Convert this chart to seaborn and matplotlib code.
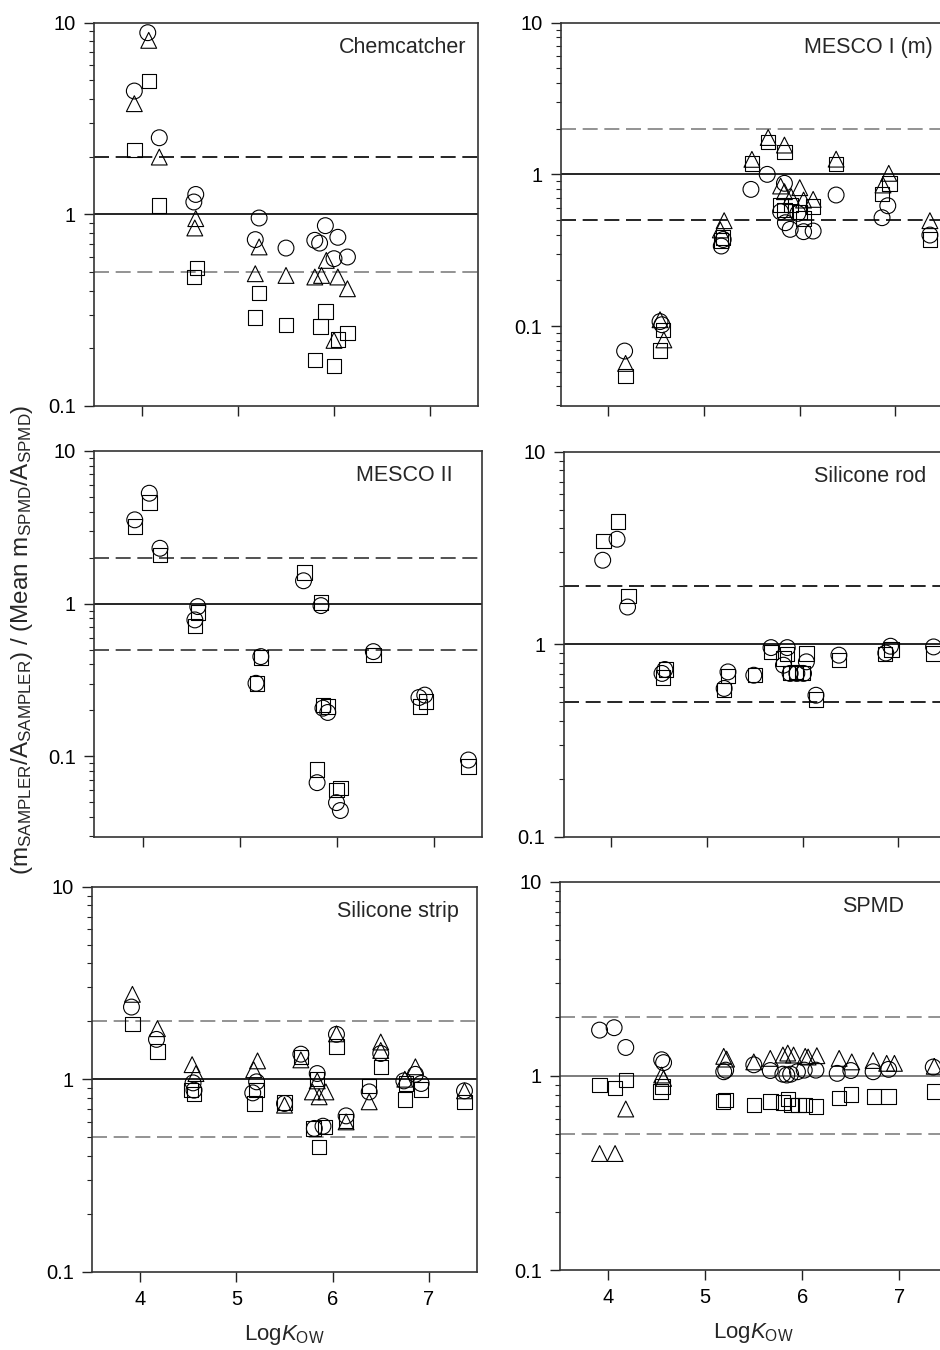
import matplotlib
matplotlib.use("Agg")
import matplotlib.pyplot as plt
from matplotlib.ticker import LogLocator, NullFormatter, FixedLocator, FixedFormatter
import seaborn as sns

sns.set_style("ticks")
plt.rcParams['font.family'] = ['Liberation Sans', 'DejaVu Sans']
plt.rcParams['mathtext.fontset'] = 'custom'
plt.rcParams['mathtext.rm'] = 'Liberation Sans'
plt.rcParams['mathtext.it'] = 'Liberation Sans:italic'
plt.rcParams['mathtext.bf'] = 'Liberation Sans:bold'

# ---- Chemcatcher ----
chem_circ_x = [4.06, 3.92, 4.18, 4.56, 4.54, 5.22, 5.18, 5.50, 5.91, 5.80, 5.85, 6.04, 6.00, 6.14]
chem_circ_y = [8.87, 4.40, 2.51, 1.27, 1.16, 0.957, 0.738, 0.667, 0.873, 0.732, 0.708, 0.759, 0.587, 0.599]
chem_tri_x = [4.07, 3.92, 4.18, 4.56, 4.55, 5.22, 5.18, 5.50, 5.92, 5.80, 5.87, 6.04, 6.14, 6.00]
chem_tri_y = [8.09, 3.78, 1.99, 0.95, 0.849, 0.676, 0.49, 0.48, 0.575, 0.471, 0.48, 0.471, 0.409, 0.22]
chem_sq_x = [4.07, 3.92, 4.18, 4.57, 4.54, 5.22, 5.18, 5.50, 5.91, 5.86, 6.14, 6.04, 5.80, 6.00]
chem_sq_y = [4.96, 2.16, 1.11, 0.525, 0.471, 0.389, 0.289, 0.264, 0.312, 0.26, 0.24, 0.222, 0.174, 0.162]

# ---- MESCO I (m) ----
m1_circ_x = [4.17, 4.54, 4.56, 5.18, 5.20, 5.49, 5.66, 5.84, 5.80, 5.85, 5.90, 6.04, 6.14, 5.98, 6.38, 6.86, 6.92, 7.36]
m1_circ_y = [0.0684, 0.107, 0.102, 0.337, 0.372, 0.796, 1.0, 0.873, 0.567, 0.48, 0.434, 0.419, 0.423, 0.553, 0.731, 0.518, 0.621, 0.398]
m1_tri_x = [4.18, 4.54, 4.58, 5.21, 5.17, 5.50, 5.67, 5.84, 6.38, 5.80, 5.84, 5.91, 6.00, 6.04, 6.14, 6.93, 6.87, 7.36]
m1_tri_y = [0.0567, 0.11, 0.081, 0.495, 0.43, 1.256, 1.75, 1.56, 1.26, 0.838, 0.769, 0.713, 0.817, 0.677, 0.684, 1.016, 0.851, 0.495]
m1_sq_x = [4.18, 4.54, 4.57, 5.20, 5.18, 5.50, 5.67, 5.84, 6.38, 5.80, 5.84, 5.91, 6.00, 6.04, 6.14, 6.94, 6.86, 7.36]
m1_sq_y = [0.0468, 0.0688, 0.094, 0.384, 0.366, 1.18, 1.64, 1.41, 1.17, 0.628, 0.582, 0.628, 0.567, 0.513, 0.612, 0.873, 0.742, 0.373]

# ---- MESCO II ----
m2_circ_x = [3.92, 4.07, 4.18, 4.57, 4.54, 5.22, 5.17, 5.66, 5.84, 5.86, 5.91, 5.80, 6.00, 6.04, 6.38, 6.85, 6.91, 7.36]
m2_circ_y = [3.53, 5.27, 2.30, 0.956, 0.782, 0.45, 0.301, 1.41, 0.97, 0.207, 0.194, 0.0674, 0.0499, 0.0443, 0.485, 0.243, 0.252, 0.0948]
m2_sq_x = [3.92, 4.07, 4.18, 4.57, 4.54, 5.22, 5.18, 5.67, 5.84, 5.86, 5.91, 5.80, 6.00, 6.04, 6.38, 6.86, 6.92, 7.36]
m2_sq_y = [3.19, 4.58, 2.08, 0.873, 0.714, 0.443, 0.301, 1.60, 1.015, 0.217, 0.212, 0.0824, 0.0604, 0.062, 0.462, 0.212, 0.229, 0.0858]

# ---- Silicone rod ----
rod_circ_x = [3.91, 4.06, 4.17, 4.56, 4.53, 5.22, 5.18, 5.49, 5.67, 5.84, 5.80, 5.87, 5.94, 6.01, 6.04, 6.14, 6.38, 6.92, 6.87, 7.37]
rod_circ_y = [2.73, 3.51, 1.56, 0.739, 0.705, 0.718, 0.589, 0.69, 0.96, 0.96, 0.778, 0.705, 0.705, 0.705, 0.81, 0.543, 0.877, 0.976, 0.90, 0.968]
rod_sq_x = [3.92, 4.07, 4.18, 4.57, 4.54, 5.22, 5.18, 5.50, 5.67, 5.84, 5.80, 5.87, 5.93, 6.00, 6.04, 6.14, 6.38, 6.93, 6.86, 7.37]
rod_sq_y = [3.44, 4.35, 1.78, 0.739, 0.671, 0.682, 0.577, 0.69, 0.912, 0.887, 0.843, 0.71, 0.718, 0.71, 0.894, 0.516, 0.826, 0.938, 0.887, 0.895]

# ---- Silicone strip ----
strip_circ_x = [3.91, 4.17, 4.55, 4.56, 5.21, 5.17, 5.50, 5.67, 5.84, 5.81, 5.90, 6.04, 6.14, 6.38, 6.50, 6.74, 6.92, 6.86, 7.37]
strip_circ_y = [2.37, 1.61, 0.957, 0.877, 0.969, 0.849, 0.748, 1.349, 1.07, 0.555, 0.57, 1.71, 0.645, 0.859, 1.36, 0.98, 0.95, 1.06, 0.87]
strip_tri_x = [3.92, 4.18, 4.54, 4.58, 5.22, 5.18, 5.50, 5.67, 5.84, 5.79, 5.93, 5.86, 6.04, 6.14, 6.38, 6.50, 6.50, 6.75, 6.86, 7.37]
strip_tri_y = [2.76, 1.83, 1.19, 1.07, 1.245, 1.12, 0.733, 1.26, 0.98, 0.859, 0.859, 0.81, 1.72, 0.60, 0.763, 1.56, 1.41, 1.0, 1.16, 0.87]
strip_sq_x = [3.92, 4.18, 4.56, 4.53, 5.19, 5.21, 5.50, 5.67, 5.84, 5.80, 5.92, 5.86, 6.04, 6.14, 6.38, 6.50, 6.75, 6.92, 6.76, 7.37]
strip_sq_y = [1.93, 1.39, 0.836, 0.877, 0.748, 0.877, 0.757, 1.30, 1.0, 0.555, 0.566, 0.445, 1.48, 0.608, 0.92, 1.16, 0.784, 0.884, 0.95, 0.763]

# ---- SPMD ----
spmd_circ_x = [3.91, 4.06, 4.18, 4.55, 4.57, 5.19, 5.21, 5.50, 5.67, 5.80, 5.84, 5.88, 5.95, 6.02, 6.14, 6.36, 6.50, 6.73, 6.89, 7.35]
spmd_circ_y = [1.72, 1.77, 1.40, 1.21, 1.17, 1.05, 1.07, 1.14, 1.065, 1.02, 1.01, 1.02, 1.05, 1.07, 1.07, 1.03, 1.065, 1.05, 1.08, 1.11]
spmd_tri_x = [3.91, 4.07, 4.18, 4.55, 4.57, 5.19, 5.22, 5.50, 5.67, 5.80, 5.85, 5.91, 6.03, 6.06, 6.15, 6.38, 6.51, 6.73, 6.87, 6.95, 7.36]
spmd_tri_y = [0.398, 0.398, 0.675, 1.01, 0.97, 1.26, 1.22, 1.18, 1.23, 1.28, 1.31, 1.28, 1.26, 1.25, 1.27, 1.23, 1.18, 1.2, 1.16, 1.16, 1.12]
spmd_sq_x = [3.91, 4.07, 4.18, 4.54, 4.56, 5.18, 5.21, 5.50, 5.67, 5.80, 5.85, 5.89, 5.96, 6.03, 6.14, 6.38, 6.50, 6.74, 6.89, 7.36]
spmd_sq_y = [0.90, 0.865, 0.954, 0.83, 0.88, 0.738, 0.753, 0.71, 0.738, 0.73, 0.76, 0.71, 0.71, 0.71, 0.696, 0.768, 0.80, 0.784, 0.784, 0.83]

x_ticks = [4, 5, 6, 7]
y_ticks = [0.1, 1, 10]
y_tick_labels = ["0.1", "1", "10"]

W, H = 940, 1350
fig = plt.figure(figsize=(W / 100, H / 100), dpi=100)


def px_axes(left, top, right, bottom):
    return fig.add_axes([left / W, 1 - bottom / H, (right - left) / W, (bottom - top) / H])


GRAY = "#808080"
BLACK = "#000000"

panels = [
    # name, box(px), ylim, series, upper dash colour, lower dash colour, unity colour, label x
    ("Chemcatcher", (94, 22.7, 478, 406), (0.1, 10),
     [(chem_circ_x, chem_circ_y, "o"), (chem_tri_x, chem_tri_y, "^"), (chem_sq_x, chem_sq_y, "s")],
     BLACK, GRAY, BLACK, 0.969),
    ("MESCO I (m)", (560.5, 22.7, 943.3, 406), (0.0297, 10),
     [(m1_circ_x, m1_circ_y, "o"), (m1_tri_x, m1_tri_y, "^"), (m1_sq_x, m1_sq_y, "s")],
     GRAY, BLACK, BLACK, 0.972),
    ("MESCO II", (94, 450.7, 482, 837.3), (0.0296, 10),
     [(m2_sq_x, m2_sq_y, "s"), (m2_circ_x, m2_circ_y, "o")],
     "#333333", "#333333", BLACK, 0.924),
    ("Silicone rod", (563.5, 451.7, 946, 836.7), (0.1, 10),
     [(rod_sq_x, rod_sq_y, "s"), (rod_circ_x, rod_circ_y, "o")],
     BLACK, BLACK, BLACK, 0.948),
    ("Silicone strip", (92, 886.7, 477, 1271.7), (0.1, 10),
     [(strip_sq_x, strip_sq_y, "s"), (strip_circ_x, strip_circ_y, "o"), (strip_tri_x, strip_tri_y, "^")],
     GRAY, GRAY, BLACK, 0.954),
    ("SPMD", (559.8, 881.7, 947.8, 1270), (0.1, 10),
     [(spmd_sq_x, spmd_sq_y, "s"), (spmd_circ_x, spmd_circ_y, "o"), (spmd_tri_x, spmd_tri_y, "^")],
     GRAY, GRAY, "#666666", 0.886),
]

sizes = {"o": 130, "^": 130, "s": 108}

axes = []
for i, (name, box, ylim, series, c_up, c_lo, c_one, lx) in enumerate(panels):
    ax = px_axes(*box)
    axes.append(ax)
    ax.set_yscale("log")
    ax.axhline(1, color=c_one, lw=1.2, zorder=1)
    ax.axhline(2, color=c_up, lw=1.2, ls=(0, (9, 4)), zorder=1)
    ax.axhline(0.5, color=c_lo, lw=1.2, ls=(0, (9, 4)), zorder=1)
    for xs, ys, mk in series:
        sns.scatterplot(x=xs, y=ys, ax=ax, marker=mk, s=sizes[mk], facecolor="none",
                        edgecolor="black", linewidth=0.8, legend=False, zorder=3)
    ax.set_xlim(3.5, 7.5)
    ax.set_ylim(*ylim)
    ax.yaxis.set_major_locator(FixedLocator(y_ticks))
    ax.yaxis.set_major_formatter(FixedFormatter(y_tick_labels))
    ax.yaxis.set_minor_locator(LogLocator(base=10, subs=range(2, 10), numticks=20))
    ax.yaxis.set_minor_formatter(NullFormatter())
    ax.set_xticks(x_ticks)
    if i < 4:
        ax.set_xticklabels([])
    ax.tick_params(axis="both", which="major", direction="out", length=7, width=1,
                   labelsize=14.5, pad=6, colors="#222222", labelcolor="black")
    ax.tick_params(axis="y", which="minor", direction="out", length=3.5, width=0.8, colors="#222222")
    for sp in ax.spines.values():
        sp.set_color("#333333")
        sp.set_linewidth(1.2)
        sp.set_visible(True)
    ax.text(lx, 0.935, name, transform=ax.transAxes, ha="right", va="center", fontsize=15.5)
    ax.set_xlabel("")
    ax.set_ylabel("")

axes[4].set_xlabel(r"Log$K_{\mathrm{OW}}$", fontsize=16, labelpad=10)
axes[5].set_xlabel(r"Log$K_{\mathrm{OW}}$", fontsize=16, labelpad=10)

fig.text(22 / W, 1 - 640 / H,
         r"(m$_{\mathrm{SAMPLER}}$/A$_{\mathrm{SAMPLER}}$) / (Mean m$_{\mathrm{SPMD}}$/A$_{\mathrm{SPMD}}$)",
         rotation=90, ha="center", va="center", fontsize=17.5)

fig.savefig("out.png", dpi=100)
